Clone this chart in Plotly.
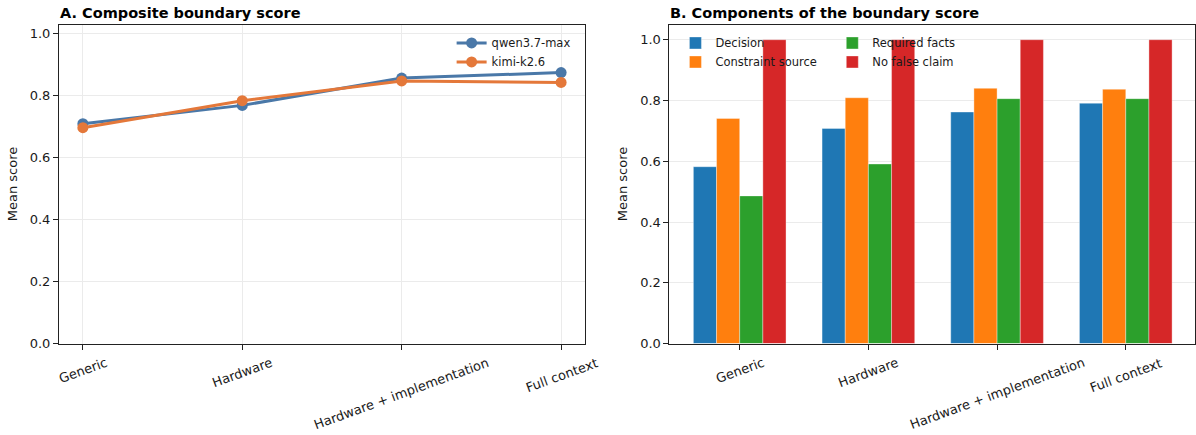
import plotly.graph_objects as go

# ---------------- data ----------------
categories = ["Generic", "Hardware", "Hardware + implementation", "Full context"]

qwen_scores = [0.710, 0.769, 0.857, 0.875]
kimi_scores = [0.697, 0.784, 0.848, 0.843]

decision = [0.582, 0.708, 0.762, 0.791]
constraint_source = [0.741, 0.809, 0.840, 0.837]
required_facts = [0.486, 0.591, 0.806, 0.806]
no_false_claim = [1.0, 1.0, 1.0, 1.0]

y_ticks = [0.0, 0.2, 0.4, 0.6, 0.8, 1.0]

# ---------------- styling ----------------
W, H = 1196, 435
FONT = "DejaVu Sans"
TXT = "#1a1a1a"

def px_x(v):
    return v / W

def px_y(v):
    return (H - v) / H

fig = go.Figure()

# Panel A: lines
fig.add_trace(go.Scatter(
    x=categories, y=qwen_scores, name="qwen3.7-max", mode="lines+markers",
    line=dict(color="#4a78a8", width=3), marker=dict(size=11, color="#4a78a8"),
    xaxis="x", yaxis="y", legend="legend",
))
fig.add_trace(go.Scatter(
    x=categories, y=kimi_scores, name="kimi-k2.6", mode="lines+markers",
    line=dict(color="#e4783a", width=3), marker=dict(size=11, color="#e4783a"),
    xaxis="x", yaxis="y", legend="legend",
))

# Panel B: grouped bars
bar_series = [
    ("Decision", decision, "#1f77b4", "legend2"),
    ("Constraint source", constraint_source, "#ff7f0e", "legend2"),
    ("Required facts", required_facts, "#2ca02c", "legend3"),
    ("No false claim", no_false_claim, "#d62728", "legend3"),
]
for name, vals, col, leg in bar_series:
    fig.add_trace(go.Bar(
        x=categories, y=vals, name=name, marker=dict(color=col, line=dict(color="rgba(255,255,255,0.6)", width=0.6)),
        xaxis="x2", yaxis="y2", legend=leg,
    ))

dom_y = [px_y(350), px_y(25)]
axis_common = dict(
    showline=True, linecolor="#222", linewidth=1, mirror=True,
    ticks="outside", ticklen=5, tickwidth=1, tickcolor="#222",
    tickfont=dict(family=FONT, size=13, color=TXT),
    zeroline=False,
)

fig.update_layout(
    width=W, height=H,
    margin=dict(l=0, r=0, t=0, b=0),
    paper_bgcolor="white", plot_bgcolor="white",
    font=dict(family=FONT, size=13, color=TXT),
    barmode="group", bargap=0.28, bargroupgap=0.0,
    xaxis=dict(
        domain=[px_x(59), px_x(585.5)], range=[-0.15, 3.15], type="category",
        showgrid=True, gridcolor="#ebebeb", gridwidth=1, showticklabels=False,
        anchor="y", **axis_common,
    ),
    yaxis=dict(
        domain=dom_y, range=[0, 1.03], tickvals=y_ticks, ticktext=[f"{v:.1f}" for v in y_ticks],
        showgrid=True, gridcolor="#ebebeb", gridwidth=1, anchor="x",
        title=dict(text="Mean score", font=dict(family=FONT, size=13, color=TXT), standoff=9),
        **axis_common,
    ),
    xaxis2=dict(
        domain=[px_x(670), 1.0], range=[-0.546, 3.538], type="category",
        showgrid=False, showticklabels=False, anchor="y2", **axis_common,
    ),
    yaxis2=dict(
        domain=dom_y, range=[0, 1.05], tickvals=y_ticks, ticktext=[f"{v:.1f}" for v in y_ticks],
        showgrid=True, gridcolor="#ebebeb", gridwidth=1, anchor="x2",
        title=dict(text="Mean score", font=dict(family=FONT, size=13, color=TXT), standoff=9),
        **axis_common,
    ),
    legend=dict(
        x=px_x(452), y=px_y(29), xanchor="left", yanchor="top",
        bgcolor="rgba(0,0,0,0)", borderwidth=0,
        font=dict(family=FONT, size=11.5, color=TXT), tracegroupgap=0,
    ),
    legend2=dict(
        x=px_x(676), y=px_y(29), xanchor="left", yanchor="top",
        bgcolor="rgba(0,0,0,0)", borderwidth=0,
        font=dict(family=FONT, size=11.5, color=TXT), tracegroupgap=0,
    ),
    legend3=dict(
        x=px_x(833), y=px_y(29), xanchor="left", yanchor="top",
        bgcolor="rgba(0,0,0,0)", borderwidth=0,
        font=dict(family=FONT, size=11.5, color=TXT), tracegroupgap=0,
    ),
    showlegend=True,
)

annotations = [
    dict(text="<b>A. Composite boundary score</b>", xref="paper", yref="paper",
         x=px_x(58), y=px_y(3), xanchor="left", yanchor="top", showarrow=False,
         font=dict(family=FONT, size=14.5, color="#000")),
    dict(text="<b>B. Components of the boundary score</b>", xref="paper", yref="paper",
         x=px_x(669), y=px_y(3), xanchor="left", yanchor="top", showarrow=False,
         font=dict(family=FONT, size=14.5, color="#000")),
]
for xr in ("x", "x2"):
    for c in categories:
        annotations.append(dict(
            text=c, xref=xr, yref="paper", x=c, y=px_y(350), yshift=-9,
            xanchor="center", yanchor="top", textangle=-20, showarrow=False,
            font=dict(family=FONT, size=13, color=TXT),
        ))
fig.update_layout(annotations=annotations)

fig.write_html(
    "out.html",
    config={"displayModeBar": False},
    post_script="document.body.style.margin='0';document.body.style.padding='0';document.body.style.overflow='hidden';",
)
